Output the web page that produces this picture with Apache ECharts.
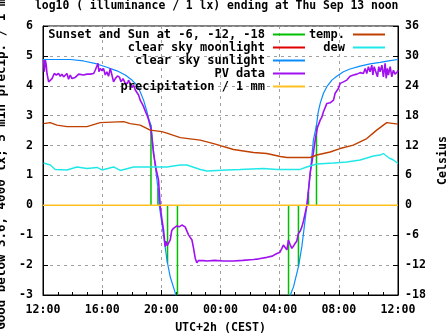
<!DOCTYPE html>
<html>
<head>
<meta charset="utf-8">
<script src="https://cdn.jsdelivr.net/npm/echarts@6/dist/echarts.min.js"></script>
<style>html,body{margin:0;padding:0;background:#fff}#c{width:447px;height:335px}</style>
</head>
<body>
<div id="c"></div>
<script>
// hours since Wed 12:00 (UTC+2h)
const xTickLabels = ['12:00', '16:00', '20:00', '00:00', '04:00', '08:00', '12:00'];
const leftTickLabels = ['-3', '-2', '-1', '0', '1', '2', '3', '4', '5', '6'];

// Sunset and Sun at -6, -12, -18 (evening and morning)
const sunEventTimes = [7.30, 7.77, 8.42, 9.09, 16.60, 17.27, 17.95, 18.49];
const sunEventLevels = [2.68, 0.58, -1.93, -3.0, -3.0, -2.05, 0.45, 2.68];

// clear sky sunlight, log10 lx
const sunTimes = [0, 1.84, 2.74, 3.65, 4.32, 5.0, 5.56, 6.01, 6.35, 6.57, 6.80, 7.03, 7.14, 7.30, 7.52, 7.77, 7.86, 8.15, 8.38, 8.60, 8.94, 9.10,
  null,
  16.55, 16.72, 16.94, 17.27, 17.50, 17.72, 17.84, 18.06, 18.28, 18.49, 18.60, 18.74, 18.96, 19.19, 19.53, 19.86, 20.31, 20.76, 21.44, 22.11, 22.79, 23.47, 24.0];
const sunValues = [4.88, 4.88, 4.83, 4.73, 4.62, 4.50, 4.36, 4.19, 4.02, 3.80, 3.52, 3.13, 2.91, 2.68, 1.60, 0.58, 0.0, -1.0, -1.83, -2.39, -2.93, -3.2,
  null,
  -3.2, -3.0, -2.72, -2.05, -1.38, -0.49, 0.0, 1.07, 2.18, 2.68, 3.10, 3.41, 3.75, 3.97, 4.19, 4.32, 4.47, 4.56, 4.66, 4.73, 4.78, 4.84, 4.88];

// clear sky moonlight: nothing above the plot range
const moonTimes = [];
const moonValues = [];

// PV data, log10 lx
const pvTimes = [0.04, 0.09, 0.16, 0.22, 0.27, 0.38, 0.49, 0.61, 0.76, 0.90, 1.05, 1.17, 1.28, 1.39, 1.51, 1.62, 1.73, 1.84, 1.96, 2.07,
  2.18, 2.30, 2.41, 2.52, 2.74, 2.97, 3.20, 3.42, 3.53, 3.65, 3.72, 3.78, 3.87, 3.99, 4.09, 4.21, 4.32, 4.43, 4.55, 4.66,
  4.77, 4.89, 5.04, 5.18, 5.27, 5.41, 5.56, 5.72, 5.78, 5.90, 6.01, 6.12, 6.24, 6.35, 6.46, 6.57, 6.69, 6.80, 6.91, 7.03,
  7.14, 7.30, 7.47, 7.65, 7.81, 7.93, 8.05, 8.15, 8.26, 8.30, 8.40, 8.49, 8.60, 8.70, 8.82, 9.05, 9.20, 9.39, 9.61, 9.84,
  9.95, 10.07, 10.18, 10.29, 10.40, 10.50, 10.63, 10.85, 11.08, 11.60, 12.20, 12.88, 13.50, 14.23, 14.60, 15.14, 15.50, 15.81, 16.00, 16.15,
  16.25, 16.37, 16.49, 16.59, 16.70, 16.82, 16.95, 17.05, 17.15, 17.27, 17.40, 17.50, 17.60, 17.72, 17.84, 17.95, 18.06, 18.23, 18.40, 18.55,
  18.74, 18.85, 18.96, 19.07, 19.19, 19.41, 19.64, 19.75, 19.97, 20.09, 20.31, 20.54, 20.76, 20.99, 21.22, 21.44, 21.66, 21.78, 21.89, 22.00,
  22.11, 22.23, 22.30, 22.39, 22.52, 22.61, 22.70, 22.79, 22.91, 23.01, 23.13, 23.20, 23.28, 23.35, 23.47, 23.58, 23.69, 23.80, 23.96, 24.00];
const pvValues = [4.86, 4.47, 4.86, 4.69, 4.41, 4.13, 4.13, 4.24, 4.41, 4.36, 4.41, 4.32, 4.39, 4.30, 4.28, 4.41, 4.22, 4.36, 4.24, 4.19,
  4.28, 4.22, 4.39, 4.41, 4.36, 4.39, 4.39, 4.41, 4.52, 4.58, 4.75, 4.47, 4.58, 4.50, 4.58, 4.36, 4.47, 4.32, 4.58, 4.36,
  4.13, 4.24, 4.33, 4.28, 4.13, 4.24, 4.08, 4.08, 4.19, 4.08, 3.94, 4.02, 3.86, 3.80, 3.69, 3.52, 3.41, 3.30, 3.16, 3.02,
  2.86, 2.55, 1.74, 1.20, 0.85, -0.05, -0.50, -0.83, -1.38, -1.20, -1.35, -1.33, -1.16, -0.85, -0.77, -0.69, -0.72, -0.66, -0.72, -0.99,
  -1.05, -1.16, -1.44, -1.77, -1.92, -1.85, -1.83, -1.85, -1.86, -1.84, -1.86, -1.86, -1.84, -1.81, -1.79, -1.74, -1.70, -1.61, -1.58, -1.44,
  -1.33, -1.27, -1.49, -1.16, -1.30, -1.44, -1.35, -1.27, -1.20, -0.94, -0.85, -0.72, -0.55, -0.27, 0.0, 0.50, 1.07, 1.60, 2.18, 2.60,
  2.85, 2.95, 3.13, 3.13, 3.41, 3.43, 3.52, 3.75, 3.91, 4.08, 4.13, 4.19, 4.32, 4.36, 4.39, 4.44, 4.41, 4.58, 4.41, 4.64,
  4.47, 4.69, 4.36, 4.64, 4.58, 4.30, 4.64, 4.47, 4.69, 4.30, 4.75, 4.25, 4.58, 4.36, 4.64, 4.30, 4.52, 4.39, 4.47, 4.52];

// precipitation / 1 mm (5 min)
const precipTimes = [0, 24];
const precipValues = [0, 0];

// temperature, Celsius
const tempTimes = [0.04, 0.49, 0.94, 1.62, 2.97, 3.87, 5.45, 5.90, 6.57, 7.25, 8.04, 8.37, 9.28, 10.63, 11.53, 12.88, 14.23, 15.13, 16.04, 16.49,
  18.06, 18.51, 19.41, 20.08, 20.98, 21.89, 22.56, 23.24, 24.0];
const tempValues = [16.4, 16.6, 16.1, 15.8, 15.8, 16.6, 16.8, 16.4, 16.1, 15.1, 14.8, 14.5, 13.6, 13.1, 12.4, 11.2, 10.6, 10.4, 9.8, 9.6,
  9.6, 10.1, 10.7, 11.4, 12.1, 13.4, 15.1, 16.6, 16.3];

// dew point, Celsius
const dewTimes = [0.04, 0.49, 0.83, 1.62, 2.30, 2.97, 3.65, 3.99, 4.77, 5.22, 6.12, 7.25, 8.37, 9.28, 9.73, 10.63, 11.08, 12.43, 13.33, 14.91,
  15.81, 16.71, 17.38, 17.83, 18.51, 19.64, 20.54, 21.44, 22.34, 22.79, 23.01, 23.35, 23.69, 24.0];
const dewValues = [8.5, 8.1, 7.2, 7.1, 7.7, 7.4, 7.6, 7.1, 7.7, 7.0, 7.7, 7.7, 7.7, 8.1, 8.1, 7.2, 6.9, 7.1, 7.2, 7.4,
  7.2, 7.2, 7.2, 7.7, 8.3, 8.5, 8.7, 9.1, 9.9, 10.1, 10.4, 9.6, 9.1, 8.4];

function pairs(xs, ys) {
  return xs.map((x, i) => (x === null ? [null, null] : [x, ys[i]]));
}
function eventSegments(ts, vs) {
  const out = [];
  ts.forEach((t, i) => { out.push([t, 0], [t, vs[i]], [t, '-']); });
  return out;
}

const FONT = '"DejaVu Sans Mono", monospace';
const chart = echarts.init(document.getElementById('c'));
const legendText = { fontFamily: FONT, fontWeight: 'bold', fontSize: 12, lineHeight: 13, color: '#000', padding: [0, 3, 0, 0] };
const tickText = { fontFamily: FONT, fontWeight: 'bold', fontSize: 11.6, color: '#000' };
const line = (name, data, color, width, yIdx) => ({
  name, type: 'line', data, yAxisIndex: yIdx || 0, showSymbol: false, symbol: 'none',
  color, lineStyle: { color, width }, connectNulls: false, animation: false, z: 3
});

chart.setOption({
  animation: false,
  title: {
    text: 'log10 ( illuminance / 1 lx) ending at Thu Sep 13 noon',
    left: 35, top: 1, padding: 0,
    textStyle: { fontFamily: FONT, fontWeight: 'bold', fontSize: 11.4, color: '#000' }
  },
  grid: { left: 43, right: 49, top: 26, bottom: 40, show: true, borderColor: '#000', borderWidth: 1,
    backgroundColor: 'transparent', containLabel: false, outerBoundsMode: 'none' },
  legend: [
    {
      data: ['Sunset and Sun at -6, -12, -18', 'clear sky moonlight', 'clear sky sunlight', 'PV data', 'precipitation / 1 mm'],
      orient: 'vertical', right: 142, top: 28, align: 'right', icon: 'rect',
      itemWidth: 32, itemHeight: 2, itemGap: 0, padding: 0, selectedMode: false, textStyle: legendText
    },
    {
      data: ['temp.', 'dew'],
      orient: 'vertical', right: 62, top: 28, align: 'right', icon: 'rect',
      itemWidth: 32, itemHeight: 2, itemGap: 0, padding: 0, selectedMode: false, textStyle: legendText
    }
  ],
  xAxis: {
    type: 'value', min: 0, max: 24, interval: 4,
    name: 'UTC+2h (CEST)', nameLocation: 'middle', nameGap: 27,
    nameTextStyle: { fontFamily: FONT, fontWeight: 'bold', fontSize: 11.6, color: '#000' },
    axisLine: { onZero: false, lineStyle: { color: '#000', width: 1 } },
    axisTick: { inside: true, length: 5, lineStyle: { color: '#000' } },
    minorTick: { show: true, splitNumber: 4, length: 3, lineStyle: { color: '#000' } },
    axisLabel: { ...tickText, margin: 9, formatter: (v) => xTickLabels[Math.round(v / 4)] },
    splitLine: { show: true, lineStyle: { color: '#a0a0a0', type: [3, 4], width: 1 } }
  },
  yAxis: [
    {
      type: 'value', min: -3, max: 6, interval: 1, position: 'left',
      name: 'Good below 3.6, 4000 lx; 5 min precip. / 1 mm', nameLocation: 'middle', nameGap: 22, nameRotate: 90,
      nameTextStyle: { fontFamily: FONT, fontWeight: 'bold', fontSize: 12.5, color: '#000' },
      axisLine: { show: true, onZero: false, lineStyle: { color: '#000', width: 1 } },
      axisTick: { show: true, inside: true, length: 5, lineStyle: { color: '#000' } },
      axisLabel: { ...tickText, margin: 10, formatter: (v) => leftTickLabels[Math.round(v + 3)] },
      splitLine: { show: true, lineStyle: { color: '#a0a0a0', type: [3, 4], width: 1 } }
    },
    {
      type: 'value', min: -18, max: 36, interval: 6, position: 'right',
      name: 'Celsius', nameLocation: 'middle', nameGap: 35, nameRotate: 90,
      nameTextStyle: { fontFamily: FONT, fontWeight: 'bold', fontSize: 11.6, color: '#000' },
      axisLine: { show: true, onZero: false, lineStyle: { color: '#000', width: 1 } },
      axisTick: { show: true, inside: true, length: 5, lineStyle: { color: '#000' } },
      axisLabel: { ...tickText, margin: 7 },
      splitLine: { show: false }
    }
  ],
  series: [
    line('Sunset and Sun at -6, -12, -18', eventSegments(sunEventTimes, sunEventLevels), '#00c000', 1.5),
    line('clear sky moonlight', pairs(moonTimes, moonValues), '#e00000', 1),
    line('clear sky sunlight', pairs(sunTimes, sunValues), '#0a8cff', 1.2),
    line('PV data', pairs(pvTimes, pvValues), '#a010f0', 1.6),
    line('precipitation / 1 mm', pairs(precipTimes, precipValues), '#ffc020', 1.5),
    line('temp.', pairs(tempTimes, tempValues), '#c04000', 1.4, 1),
    line('dew', pairs(dewTimes, dewValues), '#20e8e8', 1.4, 1)
  ]
});
</script>
</body>
</html>
